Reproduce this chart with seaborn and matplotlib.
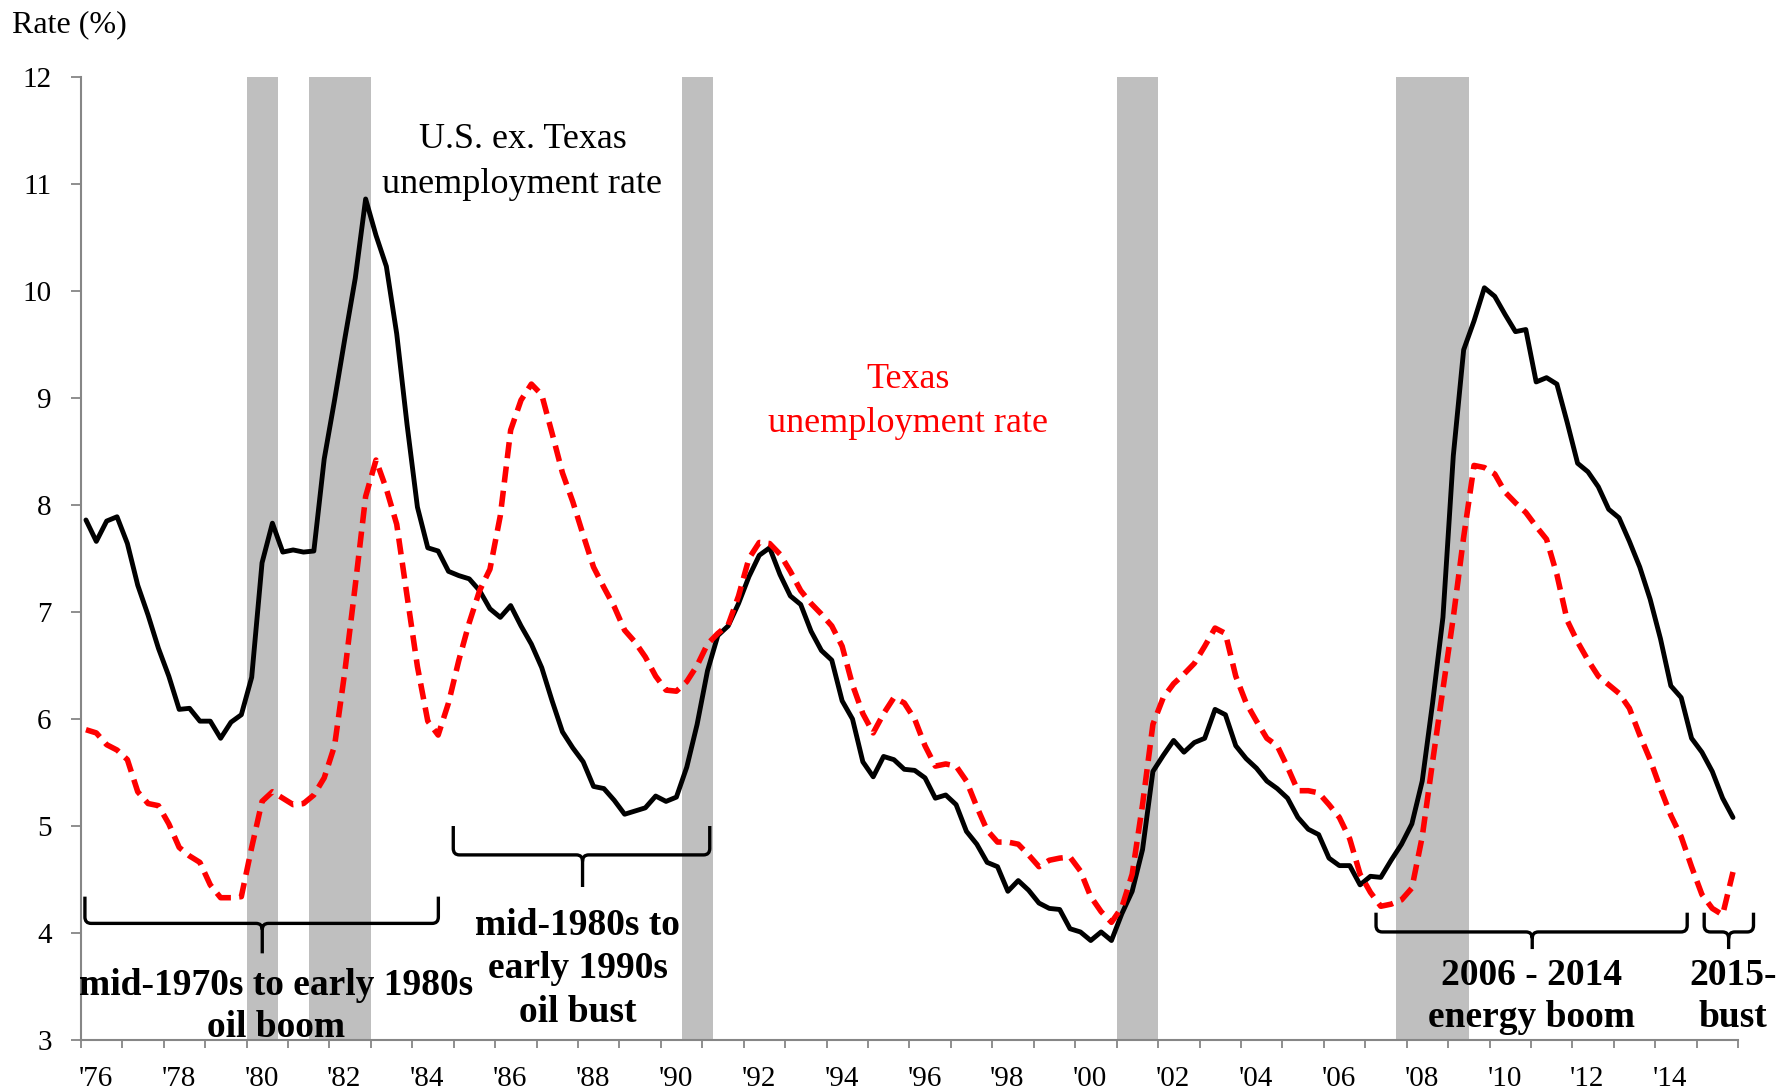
import numpy as np
import pandas as pd
import matplotlib
matplotlib.use('Agg')
import matplotlib.pyplot as plt
import matplotlib.transforms as mtransforms
from matplotlib.path import Path
from matplotlib.patches import PathPatch
import seaborn as sns

# Quarterly unemployment rates (%), 1976Q1 - 2015Q4
us_ex_texas = [
    7.86, 7.66, 7.85, 7.89, 7.64, 7.25, 6.97, 6.66, 6.40, 6.09,
    6.10, 5.98, 5.98, 5.82, 5.97, 6.04, 6.39, 7.46, 7.83, 7.56,
    7.58, 7.56, 7.57, 8.43, 8.98, 9.56, 10.12, 10.86, 10.52, 10.23,
    9.60, 8.75, 7.98, 7.60, 7.57, 7.38, 7.34, 7.31, 7.20, 7.03,
    6.95, 7.06, 6.87, 6.70, 6.48, 6.17, 5.88, 5.73, 5.60, 5.37,
    5.35, 5.24, 5.11, 5.14, 5.17, 5.28, 5.23, 5.27, 5.55, 5.95,
    6.45, 6.78, 6.87, 7.08, 7.33, 7.53, 7.60, 7.35, 7.15, 7.07,
    6.82, 6.64, 6.55, 6.17, 6.00, 5.60, 5.46, 5.65, 5.62, 5.53,
    5.52, 5.45, 5.26, 5.29, 5.20, 4.95, 4.83, 4.66, 4.62, 4.39,
    4.49, 4.40, 4.28, 4.23, 4.22, 4.04, 4.01, 3.93, 4.01, 3.93,
    4.18, 4.39, 4.78, 5.51, 5.66, 5.80, 5.69, 5.78, 5.82, 6.09,
    6.04, 5.75, 5.63, 5.54, 5.42, 5.35, 5.26, 5.08, 4.97, 4.92,
    4.70, 4.63, 4.63, 4.45, 4.53, 4.52, 4.68, 4.83, 5.02, 5.42,
    6.15, 6.95, 8.46, 9.45, 9.72, 10.03, 9.95, 9.78, 9.62, 9.64,
    9.15, 9.19, 9.13, 8.77, 8.39, 8.31, 8.17, 7.96, 7.88, 7.66,
    7.42, 7.12, 6.75, 6.31, 6.20, 5.82, 5.69, 5.51, 5.26, 5.08,
]
texas = [
    5.90, 5.87, 5.76, 5.71, 5.62, 5.32, 5.21, 5.19, 5.02, 4.80,
    4.72, 4.66, 4.45, 4.33, 4.33, 4.34, 4.80, 5.23, 5.32, 5.26,
    5.20, 5.21, 5.29, 5.45, 5.75, 6.45, 7.25, 8.08, 8.42, 8.15,
    7.82, 7.15, 6.49, 5.98, 5.85, 6.15, 6.55, 6.90, 7.20, 7.40,
    7.90, 8.70, 8.98, 9.13, 9.03, 8.67, 8.30, 8.03, 7.72, 7.42,
    7.23, 7.05, 6.83, 6.72, 6.58, 6.40, 6.27, 6.26, 6.35, 6.50,
    6.70, 6.80, 6.88, 7.15, 7.50, 7.65, 7.64, 7.54, 7.38, 7.20,
    7.08, 6.98, 6.87, 6.68, 6.32, 6.05, 5.87, 6.05, 6.20, 6.15,
    6.00, 5.75, 5.56, 5.58, 5.56, 5.42, 5.18, 4.96, 4.85, 4.85,
    4.83, 4.73, 4.62, 4.68, 4.70, 4.71, 4.58, 4.34, 4.20, 4.10,
    4.24, 4.55, 5.20, 5.95, 6.20, 6.33, 6.42, 6.52, 6.68, 6.85,
    6.80, 6.40, 6.15, 5.98, 5.82, 5.75, 5.55, 5.33, 5.33, 5.31,
    5.20, 5.08, 4.88, 4.55, 4.38, 4.25, 4.27, 4.31, 4.42, 4.90,
    5.60, 6.28, 6.95, 7.70, 8.37, 8.35, 8.29, 8.12, 8.02, 7.93,
    7.80, 7.68, 7.35, 6.92, 6.72, 6.55, 6.40, 6.32, 6.24, 6.10,
    5.85, 5.62, 5.35, 5.10, 4.90, 4.62, 4.36, 4.23, 4.17, 4.57,
]

# recession shading (decimal years)
recession_start = [1980.0, 1981.5, 1990.5, 2001.0, 2007.75]
recession_end = [1980.75, 1983.0, 1991.25, 2002.0, 2009.5]

year_ticks = list(range(1976, 2015, 2))
year_labels = ["'" + str(y)[2:] for y in year_ticks]
minor_years = [y for y in range(1977, 2017) if y not in year_ticks]
y_ticks = list(range(3, 13))

# braces: x left, x right, x middle, y tips, y bar, y point
braces = [
    (1976.1, 1984.63, 1980.38, 4.34, 4.09, 3.81),
    (1984.99, 1991.18, 1988.11, 5.00, 4.73, 4.43),
    (2007.26, 2014.77, 2011.03, 4.19, 4.01, 3.85),
    (2015.18, 2016.37, 2015.77, 4.19, 4.01, 3.85),
]

quarters = pd.period_range('1976Q1', '2015Q4', freq='Q')
df = pd.DataFrame({
    'date': quarters.year + (quarters.quarter - 0.5) / 4,
    'us_ex_texas': us_ex_texas,
    'texas': texas,
})

sns.set_style('white')
plt.rcParams['font.family'] = ['Liberation Serif', 'DejaVu Serif']
plt.rcParams['text.color'] = 'black'
plt.rcParams['xtick.labelcolor'] = 'black'
plt.rcParams['ytick.labelcolor'] = 'black'

fig = plt.figure(figsize=(17.91, 10.92), dpi=100)
ax = fig.add_axes([0.0451, 0.0476, 0.9254, 0.8819])

for s, e in zip(recession_start, recession_end):
    ax.axvspan(s, e, color='#bfbfbf', lw=0, zorder=0)

sns.lineplot(data=df, x='date', y='us_ex_texas', color='black', lw=3.5,
             ax=ax, zorder=3)
sns.lineplot(data=df, x='date', y='texas', color='red', lw=4.0,
             linestyle=(0, (2.9, 1.5)), ax=ax, zorder=4)

ax.set_xlim(1976, 2016)
ax.set_ylim(3, 12)
ax.set_xlabel('')
ax.set_ylabel('')
ax.set_yticks(y_ticks)
ax.set_yticklabels([str(v) for v in y_ticks], fontsize=21)
ax.set_xticks(year_ticks)
ax.set_xticks(minor_years, minor=True)
ax.set_xticklabels(year_labels, fontsize=21)

for side in ['top', 'right']:
    ax.spines[side].set_visible(False)
for side in ['left', 'bottom']:
    ax.spines[side].set_color('#868686')
    ax.spines[side].set_linewidth(1.5)
ax.tick_params(axis='y', direction='out', length=7, width=1.3,
               color='#868686', labelcolor='black', pad=14, left=True)
ax.tick_params(axis='x', which='both', direction='out', length=6, width=1.3,
               color='#868686', labelcolor='black', bottom=True, pad=13)

# Excel-style labels sit a bit right of their tick
offset = mtransforms.ScaledTranslation(0.15, 0, fig.dpi_scale_trans)
for lab in ax.get_xticklabels():
    lab.set_transform(lab.get_transform() + offset)

# curly braces
rx, ry = 0.15, 0.06
for x0, x1, xm, yt, yl, ym in braces:
    verts = [(x0, yt), (x0, yl + ry), (x0, yl), (x0 + rx, yl),
             (xm - rx, yl), (xm, yl), (xm, yl - ry), (xm, ym),
             (x1, yt), (x1, yl + ry), (x1, yl), (x1 - rx, yl),
             (xm + rx, yl), (xm, yl), (xm, yl - ry)]
    codes = [Path.MOVETO, Path.LINETO, Path.CURVE3, Path.CURVE3,
             Path.LINETO, Path.CURVE3, Path.CURVE3, Path.LINETO,
             Path.MOVETO, Path.LINETO, Path.CURVE3, Path.CURVE3,
             Path.LINETO, Path.CURVE3, Path.CURVE3]
    ax.add_patch(PathPatch(Path(verts, codes), fill=False, lw=2.4,
                           ec='black', clip_on=False, zorder=5,
                           capstyle='butt', joinstyle='round'))

# y given for the baseline of the last line of each block
ax.text(1986.66, 10.92, 'U.S. ex. Texas\nunemployment rate', ha='center',
        va='baseline', fontsize=26, linespacing=1.45, color='black', zorder=6)
ax.text(1995.96, 8.68, 'Texas\nunemployment rate', ha='center',
        va='baseline', fontsize=26, linespacing=1.45, color='red', zorder=6)

bold = dict(ha='center', va='baseline', fontsize=27, fontweight='bold',
            color='black', zorder=6)
ax.text(1980.72, 3.03, 'mid-1970s to early 1980s\noil boom', linespacing=1.24, **bold)
ax.text(1987.99, 3.17, 'mid-1980s to\nearly 1990s\noil bust', linespacing=1.31, **bold)
ax.text(2011.01, 3.12, '2006 - 2014\nenergy boom', linespacing=1.28, **bold)
ax.text(2015.88, 3.12, '2015-\nbust', linespacing=1.28, **bold)

fig.text(12 / 1791, 1 - 32 / 1092, 'Rate (%)', fontsize=23, va='baseline',
         color='black')

fig.savefig('out.png', dpi=100)
